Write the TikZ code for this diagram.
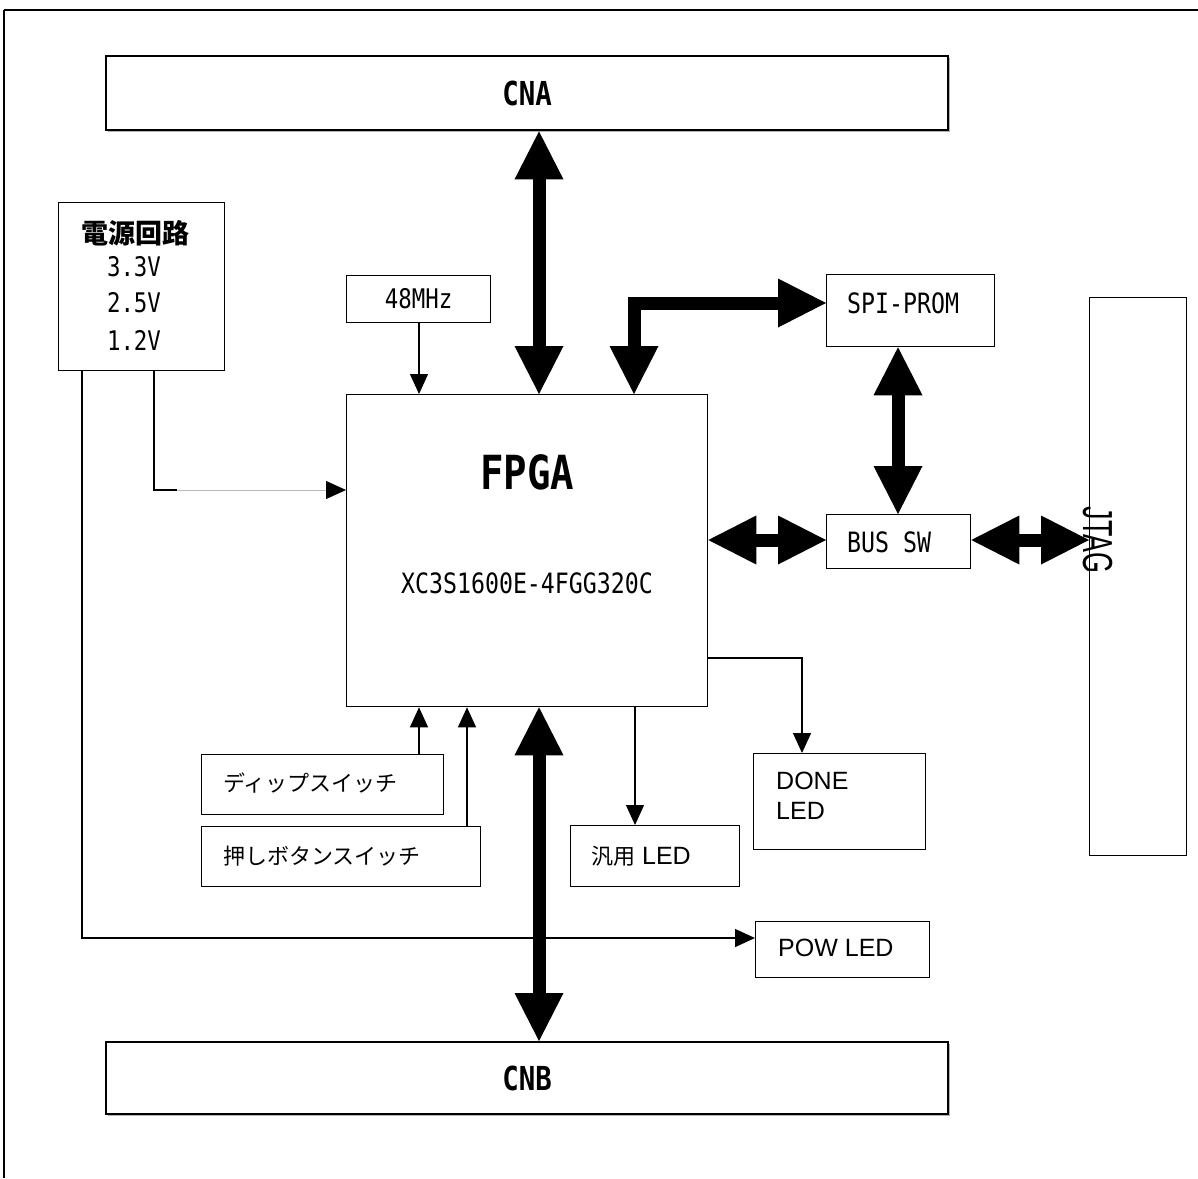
\documentclass[tikz,border=0pt]{standalone}
\usepackage{fontspec}
\setmainfont{Liberation Sans}
\newfontfamily\jp{Noto Sans CJK JP}
\newfontfamily\gm[FakeStretch=0.83]{DejaVu Sans Mono}
\newfontfamily\jtagf[FakeStretch=0.64]{Liberation Sans}
\usetikzlibrary{arrows.meta}
\begin{document}
\begin{tikzpicture}[x=1pt,y=-1pt,
  box/.style={draw, line width=1.3pt, inner sep=0pt, anchor=north west},
  conbox/.style={draw, line width=2.4pt, inner sep=0pt, anchor=north west},
  big/.style={line width=13pt, line join=miter, {Triangle[width=49pt,length=48pt,line width=0pt]}-{Triangle[width=49pt,length=48pt,line width=0pt]}},
  thinarr/.style={line width=1.3pt, -{Triangle[width=18pt,length=20pt]}},
  plain/.style={line width=1.3pt},
  gmtext/.style={font=\gm\fontsize{27}{30}\selectfont, inner sep=0pt},
  jptext/.style={font=\jp\fontsize{22}{26}\selectfont, inner sep=0pt},
  ltext/.style={font=\fontsize{25}{30}\selectfont, inner sep=0pt}
]
\useasboundingbox (0,0) rectangle (1198,1178);
% outer frame
\coordinate (fr1) at (1198,10);
\coordinate (fr2) at (4,10);
\coordinate (fr3) at (4,1178);
\draw[line width=2pt] (fr1) -- (fr2);
\draw[line width=1.3pt] (fr2) -- (fr3);

% connector boxes with shadow
\fill[gray!60] (108,58) rectangle (950,132);
\node[conbox, fill=white, minimum width=842pt, minimum height=74pt,
      font=\gm\bfseries\fontsize{33}{36}\selectfont] (cna) at (105,55) {CNA};
\fill[gray!60] (108,1044) rectangle (950,1116);
\node[conbox, fill=white, minimum width=842pt, minimum height=72pt,
      font=\gm\bfseries\fontsize{33}{36}\selectfont] (cnb) at (105,1041) {CNB};

% power box
\node[box, minimum width=166pt, minimum height=168pt] (pwr) at (58,202) {};
\node[font=\jp\bfseries\fontsize{27}{30}\selectfont, inner sep=0pt] (pwrt) at (135,233) {電源回路};
\node[gmtext] (v33) at (134,267) {3.3V};
\node[gmtext] (v25) at (134,303) {2.5V};
\node[gmtext] (v12) at (134,340) {1.2V};

% clock
\node[box, minimum width=144pt, minimum height=47pt, gmtext, draw, line width=1.3pt, anchor=north west] (mhz) at (346,275) {48MHz};

% FPGA
\node[box, minimum width=361pt, minimum height=312pt] (fpga) at (346,394) {};
\node[font=\gm\bfseries\fontsize{47}{50}\selectfont, inner sep=0pt] (fpgat) at (527,472) {FPGA};
\node[gmtext, font=\gm\fontsize{28}{30}\selectfont] (fpgap) at (527,583) {XC3S1600E-4FGG320C};

% SPI-PROM, BUS SW, JTAG
\node[box, minimum width=168pt, minimum height=72pt] (spi) at (826,274) {};
\node[gmtext, anchor=west, font=\gm\fontsize{28}{30}\selectfont] (spit) at (847,303) {SPI-PROM};
\node[box, minimum width=144pt, minimum height=54pt] (bus) at (826,514) {};
\node[gmtext, anchor=west, font=\gm\fontsize{28}{30}\selectfont] (bust) at (847,542) {BUS SW};
\node[box, minimum width=97pt, minimum height=558pt] (jtag) at (1089,297) {};
\node[font=\jtagf\fontsize{42}{46}\selectfont, inner sep=0pt, rotate=-90] (jtagt) at (1098,540) {JTAG};

% switches
\node[box, minimum width=242pt, minimum height=60pt] (dip) at (201,754) {};
\node[jptext, anchor=west] (dipt) at (223,783) {ディップスイッチ};
\node[box, minimum width=279pt, minimum height=60pt] (push) at (201,826) {};
\node[jptext, anchor=west] (pusht) at (223,856) {押しボタンスイッチ};

% LEDs
\node[box, minimum width=169pt, minimum height=61pt] (gled) at (570,825) {};
\node[ltext, anchor=west] (gledt) at (591,856) {{\jp\fontsize{22}{26}\selectfont 汎用} LED};
\node[box, minimum width=172pt, minimum height=96pt] (done) at (753,753) {};
\node[ltext, anchor=west, align=left] (donet) at (776,796) {DONE\\LED};
\node[box, minimum width=174pt, minimum height=56pt] (pow) at (755,921) {};
\node[ltext, anchor=west] (powt) at (778,948) {POW LED};

% helper coordinates
\coordinate (x539) at (539,0);
\coordinate (x634) at (634,303);
\coordinate (x898) at (898,0);
\coordinate (y540) at (0,540);
\coordinate (x419) at (419,0);
\coordinate (x467) at (467,0);
\coordinate (x635) at (635,0);
\coordinate (x802) at (802,658);
\coordinate (x82) at (82,938);
\coordinate (x154) at (154,490);
\coordinate (pg) at (177,490);

% thick bidirectional buses
\draw[big] (x539 |- cna.south) -- (x539 |- fpga.north);
\draw[big] (x539 |- fpga.south) -- (x539 |- cnb.north);
\draw[big] (x634 |- fpga.north) -- (x634) -- (x634 -| spi.west);
\draw[big] (x898 |- spi.south) -- (x898 |- bus.north);
\draw[big] (fpga.east |- y540) -- (bus.west |- y540);
\draw[big] (bus.east |- y540) -- (jtag.west |- y540);

% thin signals
\draw[thinarr] (x419 |- mhz.south) -- (x419 |- fpga.north);
\draw[thinarr] (x419 |- dip.north) -- (x419 |- fpga.south);
\draw[thinarr] (x467 |- push.north) -- (x467 |- fpga.south);
\draw[thinarr] (x635 |- fpga.south) -- (x635 |- gled.north);
\draw[thinarr] (fpga.east |- x802) -- (x802) -- (x802 |- done.north);
\draw[thinarr] (x82 |- pwr.south) -- (x82) -- (pow.west |- x82);
\draw[plain] (x154 |- pwr.south) -- (x154) -- (pg);
\draw[line width=0.8pt, draw=gray!55, -{Triangle[width=18pt,length=20pt,black]}] (pg) -- (fpga.west |- pg);
\end{tikzpicture}
\end{document}
